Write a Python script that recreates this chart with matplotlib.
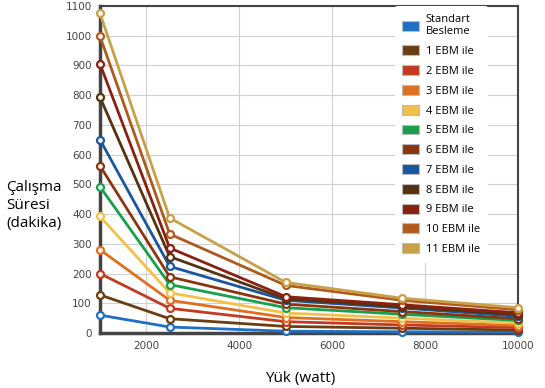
import matplotlib
matplotlib.use("Agg")
import matplotlib.pyplot as plt
from matplotlib.patches import Patch

# --- Data ---
loads = [1000, 2500, 5000, 7500, 10000]

labels = ["Standart\nBesleme", "1 EBM ile", "2 EBM ile", "3 EBM ile", "4 EBM ile",
          "5 EBM ile", "6 EBM ile", "7 EBM ile", "8 EBM ile", "9 EBM ile",
          "10 EBM ile", "11 EBM ile"]

standart = [60, 20, 6, 4, 3]
ebm1 = [128, 48, 22, 16, 10]
ebm2 = [200, 83, 38, 27, 18]
ebm3 = [280, 110, 52, 38, 25]
ebm4 = [392, 135, 67, 50, 33]
ebm5 = [492, 163, 85, 63, 42]
ebm6 = [562, 189, 97, 72, 48]
ebm7 = [650, 224, 110, 84, 56]
ebm8 = [793, 257, 115, 88, 62]
ebm9 = [905, 286, 122, 95, 68]
ebm10 = [998, 333, 160, 110, 78]
ebm11 = [1075, 387, 170, 117, 85]

series = [standart, ebm1, ebm2, ebm3, ebm4, ebm5, ebm6, ebm7, ebm8, ebm9, ebm10, ebm11]

colors = ["#1f6fc5", "#6b3e12", "#c23a22", "#e07020", "#f5c04a", "#16a04c",
          "#8b3510", "#1a56a0", "#553310", "#8b2010", "#b05a1e", "#c8a048"]

fig = plt.figure(figsize=(5.45, 3.88), dpi=100)
ax = fig.add_axes([0.1835, 0.1418, 0.767, 0.8427])

for vals, c in zip(series, colors):
    ax.plot(loads, vals, color=c, linewidth=2, marker='o', markersize=5,
            markerfacecolor='white', markeredgewidth=1.6, markeredgecolor=c,
            zorder=3, clip_on=False)

ax.set_xlim(1000, 10000)
ax.set_ylim(0, 1100)
ax.set_xticks([2000, 4000, 6000, 8000, 10000])
ax.set_yticks(range(0, 1101, 100))
ax.tick_params(length=0, labelsize=7.5, colors='#444444', pad=6)
ax.grid(True, color='#d0d0d0', linewidth=0.8)
ax.set_axisbelow(True)

for name, spine in ax.spines.items():
    spine.set_color('#444444')
    spine.set_linewidth(2.5 if name in ('left', 'bottom') else 1.5)

# y label as free text block at left
fig.text(0.012, 0.47, "Çalışma\nSüresi\n(dakika)", fontsize=11, family='Open Sans',
         ha='left', va='center', linespacing=1.25)
fig.text(0.55, 0.025, "Yük (watt)", fontsize=11, family='Open Sans',
         ha='center', va='center')

handles = [Patch(facecolor=c, edgecolor='#bbbbbb', linewidth=0.8) for c in colors]
leg = ax.legend(handles, labels, loc='upper left', bbox_to_anchor=(0.705, 1.0),
                frameon=True, facecolor='white', edgecolor='none', framealpha=1,
                prop={'family': 'Open Sans', 'size': 8}, handlelength=1.45,
                handleheight=1.0, labelspacing=0.72, borderpad=0.7,
                handletextpad=0.65, borderaxespad=0.0)
leg.set_zorder(5)

fig.savefig("out.png", dpi=100)
